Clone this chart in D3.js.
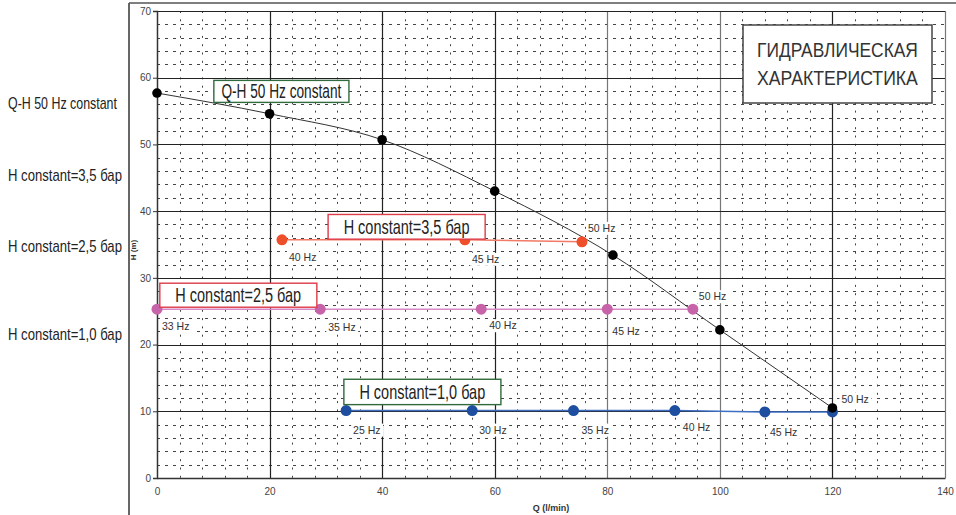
<!DOCTYPE html>
<html><head><meta charset="utf-8">
<script src="https://cdn.jsdelivr.net/npm/d3@7"></script>
<style>
html,body{margin:0;padding:0;background:#fff;}
svg{display:block;}
.narrow{font-family:"Liberation Sans","Noto Sans",sans-serif;}
.tick text{font-family:"Liberation Sans",Arial,sans-serif;}
</style>
</head><body>
<svg id="c" width="956" height="515"></svg>
<script>
// ---- data ----
const qhQ = [0, 20, 40, 60, 81, 100, 120];
const qhH = [57.7, 54.6, 50.7, 43.0, 33.4, 22.2, 10.5];
const qhHz = ["", "", "", "", "", "", "50 Hz"];

const h35Q = [22.2, 54.7, 75.5];
const h35H = [35.7, 35.7, 35.4];
const h35Hz = ["40 Hz", "45 Hz", "50 Hz"];

const h25Q = [0, 29, 57.6, 80, 95.2];
const h25H = [25.3, 25.3, 25.3, 25.3, 25.3];
const h25Hz = ["33 Hz", "35 Hz", "40 Hz", "45 Hz", "50 Hz"];

const h10Q = [33.6, 56, 74, 92, 108, 120];
const h10H = [10.1, 10.1, 10.1, 10.1, 9.9, 9.9];
const h10Hz = ["25 Hz", "30 Hz", "35 Hz", "40 Hz", "45 Hz", ""];

const xTicks = [0, 20, 40, 60, 80, 100, 120, 140];
const yTicks = [0, 10, 20, 30, 40, 50, 60, 70];
const sideLabels = ["Q-H 50 Hz constant", "H constant=3,5 бар", "H constant=2,5 бар", "H constant=1,0 бар"];
const boxLabels = ["Q-H 50 Hz constant", "H constant=3,5 бар", "H constant=2,5 бар", "H constant=1,0 бар"];
const titleLines = ["ГИДРАВЛИЧЕСКАЯ", "ХАРАКТЕРИСТИКА"];
const xTitle = "Q (l/min)";
const yTitle = "H (m)";

// ---- layout ----
const svg = d3.select("#c");
const L = 157, R = 945, T = 11, B = 478;
const x = d3.scaleLinear().domain([0, 140]).range([L, R]);
const y = d3.scaleLinear().domain([0, 70]).range([B, T]);
const px = v => Math.round(x(v)) + 0.5;
const py = v => Math.round(y(v)) + 0.5;

// outer frame
svg.append("line").attr("x1", 129).attr("x2", 129).attr("y1", 3).attr("y2", 515).attr("stroke", "#333").attr("stroke-width", 1.5);
svg.append("line").attr("x1", 129).attr("x2", 956).attr("y1", 3).attr("y2", 3).attr("stroke", "#555").attr("stroke-width", 1.5);

// minor grid
const g = svg.append("g");
const minorX = d3.range(0, 141, 4).filter(v => v % 20 !== 0);
const minorY = d3.range(0, 71, 2).filter(v => v % 10 !== 0);
g.selectAll(".mx").data(minorX).join("line")
  .attr("x1", d => px(d)).attr("x2", d => px(d)).attr("y1", T).attr("y2", B)
  .attr("stroke", "#444").attr("stroke-width", 1).attr("stroke-dasharray", "2,6.3");
g.selectAll(".my").data(minorY).join("line")
  .attr("x1", L).attr("x2", R).attr("y1", d => py(d)).attr("y2", d => py(d))
  .attr("stroke", "#444").attr("stroke-width", 1).attr("stroke-dasharray", "3,5");
// major grid
g.selectAll(".Mx").data(xTicks).join("line")
  .attr("x1", d => px(d)).attr("x2", d => px(d)).attr("y1", T).attr("y2", B)
  .attr("stroke", d => (d === 80 || d === 100 || d === 140) ? "#777" : "#222").attr("stroke-width", 1.2);
g.selectAll(".My").data(yTicks).join("line")
  .attr("x1", L).attr("x2", R).attr("y1", d => py(d)).attr("y2", d => py(d))
  .attr("stroke", "#222").attr("stroke-width", 1.1);

// axes
const xAxis = d3.axisBottom(x).tickValues(xTicks).tickSize(0).tickPadding(10);
const yAxis = d3.axisLeft(y).tickValues(yTicks).tickSize(4).tickPadding(2);
const gx = svg.append("g").attr("transform", `translate(0,${B})`).call(xAxis);
const gy = svg.append("g").attr("transform", `translate(${L},0)`).call(yAxis);
[gx, gy].forEach(a => {
  a.select(".domain").attr("stroke", "#333").attr("stroke-width", 1.3);
  a.selectAll("text").attr("fill", "#444").style("font-size", "10px");
  a.selectAll(".tick line").attr("stroke", "#333");
});
svg.append("text").attr("x", 551).attr("y", 511).attr("text-anchor", "middle")
  .style("font-family", "'Liberation Sans', Arial, sans-serif").style("font-size", "9px").style("font-weight", "bold").attr("fill", "#333").text(xTitle);
svg.append("text").attr("transform", "translate(136,250) rotate(-90)").attr("text-anchor", "middle")
  .style("font-family", "'Liberation Sans', Arial, sans-serif").style("font-size", "8px").style("font-weight", "bold").attr("fill", "#333").text(yTitle);

// series
const hzFont = "'Liberation Sans', Arial, sans-serif";
const lineLayer = svg.append("g"), labelLayer = svg.append("g"), ptLayer = svg.append("g");
function drawSeries(qs, hs, hz, lineColor, lineW, ptColor, r, curve, offs) {
  const pts = qs.map((q, i) => ({q, h: hs[i], hz: hz[i], off: offs[i]}));
  lineLayer.append("path").datum(pts)
    .attr("d", d3.line().x(d => x(d.q)).y(d => y(d.h)).curve(curve))
    .attr("fill", "none").attr("stroke", lineColor).attr("stroke-width", lineW);
  ptLayer.append("g").selectAll("circle").data(pts).join("circle")
    .attr("cx", d => x(d.q)).attr("cy", d => y(d.h)).attr("r", r).attr("fill", ptColor);
  const lg = labelLayer.append("g").selectAll("g").data(pts.filter(d => d.hz)).join("g")
    .attr("transform", d => `translate(${x(d.q) + d.off[0]},${y(d.h) + d.off[1]})`);
  lg.append("rect").attr("x", -2).attr("y", -10).attr("width", 32).attr("height", 13).attr("fill", "#fff");
  lg.append("text").style("font-family", hzFont).style("font-size", "10.5px").attr("fill", "#333").text(d => d.hz);
}
drawSeries(h35Q, h35H, h35Hz, "#f27a66", 1.5, "#ef4e2b", 5.5, d3.curveLinear, [[7, 21], [7, 23], [6, -10]]);
drawSeries(h25Q, h25H, h25Hz, "#d68ac6", 1.5, "#c763a9", 5.5, d3.curveLinear, [[5, 21], [8, 22], [8, 20], [5, 26], [6, -9]]);
drawSeries(h10Q, h10H, h10Hz, "#3e6fc2", 1.5, "#1e4ea0", 5.5, d3.curveLinear, [[7, 23], [7, 23], [8, 23], [8, 20], [5, 24], [0, 0]]);
drawSeries(qhQ, qhH, qhHz, "#333", 1, "#000", 4.8, d3.curveMonotoneX, [0, 0, 0, 0, 0, 0, [9, -5]].map(v => v || [0, 0]));

// condensed text: horizontally scale a text element so its width is w, left edge at x0
function narrowAt(parent, txt, x0, yb, fs, w, fill) {
  const gg = parent.append("g");
  const t = gg.append("text").attr("class", "narrow").style("font-size", fs + "px").attr("fill", fill).text(txt);
  const nat = t.node().getComputedTextLength();
  gg.attr("transform", `translate(${x0},${yb}) scale(${w / nat},1)`);
  return gg;
}

// annotation boxes (data-anchored)
function box(x0, y0, x1, y1, stroke, text, fs, tw) {
  const bx = x(x0), by = y(y0), bw = x(x1) - x(x0), bh = y(y1) - y(y0);
  svg.append("rect").attr("x", bx).attr("y", by).attr("width", bw).attr("height", bh)
    .attr("fill", "#fff").attr("stroke", stroke).attr("stroke-width", 1.4);
  narrowAt(svg, text, bx + bw / 2 - tw / 2, by + bh / 2 + fs * 0.36, fs, tw, "#222");
}
box(10.1, 59.6, 34.1, 56.3, "#2f6b3c", boxLabels[0], 19.5, 120);
box(30.4, 39.5, 58.3, 35.8, "#de3a48", boxLabels[1], 19.5, 126);
box(0.5, 29.2, 28.4, 25.6, "#de3a48", boxLabels[2], 19.5, 126);
box(33.2, 14.8, 61.1, 11.0, "#2f6b3c", boxLabels[3], 19.5, 126);

// title box
svg.append("rect").attr("x", 743).attr("y", 25).attr("width", 189).attr("height", 78)
  .attr("fill", "#fff").attr("stroke", "#444").attr("stroke-width", 1.5);
titleLines.forEach((t, i) => narrowAt(svg, t, 757, 57 + i * 28, 21, 161, "#333"));

// side labels
const sideY = [109, 181, 252, 340];
const sideW = [109, 114, 114, 114];
sideLabels.forEach((t, i) => narrowAt(svg, t, 8, sideY[i], 17, sideW[i], "#222"));
</script>
</body></html>
